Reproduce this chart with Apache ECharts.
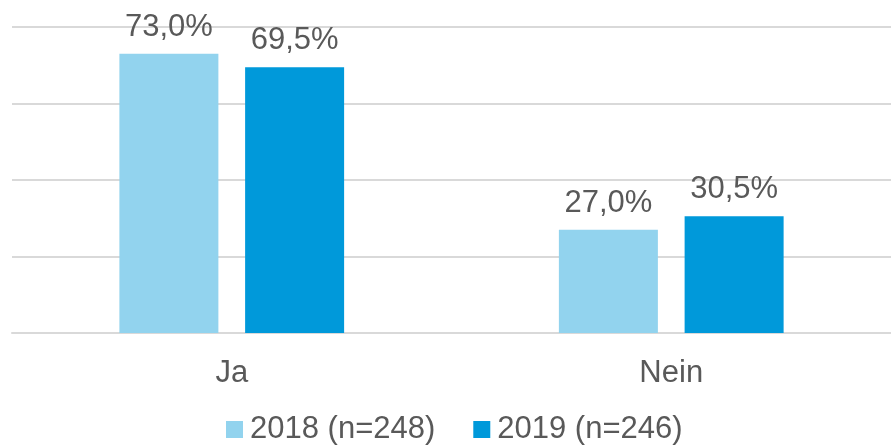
<!DOCTYPE html>
<html>
<head>
<meta charset="UTF-8">
<title>Ja / Nein</title>
<script type="text/javascript" src="https://cdn.jsdelivr.net/npm/echarts@6/dist/echarts.min.js"></script>
<style type="text/css">
 html,body{margin:0;padding:0;background:#fff;}
</style>
</head>
<body>
<div id="mainChart" style="width:891px;height:446px;"></div>
<script type="text/javascript">
var categories = ['Ja', 'Nein'];
var seriesNames = ['2018 (n=248)', '2019 (n=246)'];
var values2018 = [73.0, 27.0];
var values2019 = [69.5, 30.5];

var fontFam = '"Liberation Sans", Arial, sans-serif';
var textColor = '#595959';

function pct(p) {
    return p.value.toFixed(1).replace('.', ',') + '%';
}

var myChart = echarts.init(document.getElementById('mainChart'));
var option = {
    animation: false,
    textStyle: { fontFamily: fontFam },
    grid: { left: 12, width: 884, top: 27, bottom: 113 },
    legend: {
        data: seriesNames,
        left: 226,
        top: 414,
        padding: 0,
        itemWidth: 17,
        itemHeight: 17,
        itemGap: 38,
        icon: 'rect',
        textStyle: { fontSize: 31, color: textColor, fontFamily: fontFam, padding: [0, 0, 0, 2] }
    },
    xAxis: {
        type: 'category',
        data: categories,
        axisLine: { show: true, lineStyle: { color: '#d9d9d9', width: 2 } },
        axisTick: { show: false },
        axisLabel: { fontSize: 31, color: textColor, margin: 25 }
    },
    yAxis: {
        type: 'value',
        min: 0,
        max: 80,
        interval: 20,
        axisLabel: { show: false },
        axisLine: { show: false },
        axisTick: { show: false },
        splitLine: { lineStyle: { color: '#d9d9d9', width: 2 } }
    },
    series: [
        {
            name: seriesNames[0],
            type: 'bar',
            data: values2018,
            barWidth: 99,
            barGap: '27%',
            itemStyle: { color: '#92D3EE' },
            label: { show: true, position: 'top', distance: 11, fontSize: 31, color: textColor, formatter: pct }
        },
        {
            name: seriesNames[1],
            type: 'bar',
            data: values2019,
            barWidth: 99,
            barGap: '27%',
            itemStyle: { color: '#0099DA' },
            label: { show: true, position: 'top', distance: 11, fontSize: 31, color: textColor, formatter: pct }
        }
    ]
};
myChart.setOption(option);
</script>
</body>
</html>
